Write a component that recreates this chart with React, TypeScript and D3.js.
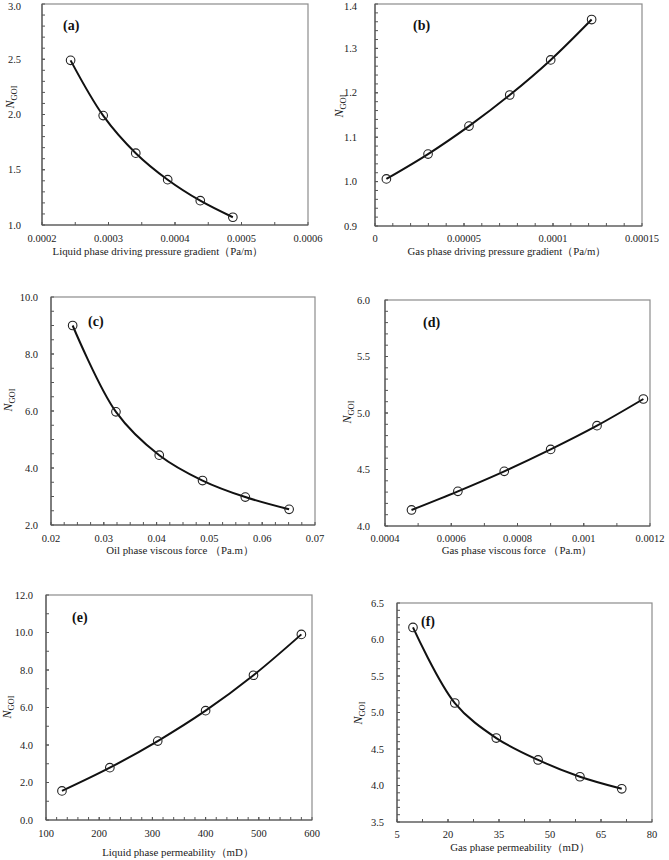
import React from "react";
import * as d3 from "d3";

const width = 669;
const height = 860;

const serif = "'Liberation Serif', 'Times New Roman', serif";

// Data
const aX = [0.000243, 0.000292, 0.000341, 0.000389, 0.000438, 0.000487];
const aY = [2.49, 1.99, 1.65, 1.41, 1.22, 1.07];
const bX = [0.0000064, 0.0000298, 0.0000528, 0.0000757, 0.0000987, 0.0001217];
const bY = [1.006, 1.062, 1.125, 1.195, 1.274, 1.365];
const cX = [0.0241, 0.0323, 0.0405, 0.0487, 0.0568, 0.0651];
const cY = [9.0, 5.97, 4.45, 3.56, 2.98, 2.55];
const dX = [0.00048, 0.00062, 0.00076, 0.0009, 0.00104, 0.00118];
const dY = [4.142, 4.307, 4.484, 4.678, 4.888, 5.124];
const eX = [130, 220, 310, 400, 490, 580];
const eY = [1.55, 2.79, 4.21, 5.83, 7.72, 9.9];
const fX = [9.7, 22, 34.2, 46.5, 58.8, 71.1];
const fY = [6.165, 5.13, 4.65, 4.35, 4.12, 3.955];

// Axis ticks
const aXTicks = [0.0002, 0.0003, 0.0004, 0.0005, 0.0006];
const aXLabels = ["0.0002", "0.0003", "0.0004", "0.0005", "0.0006"];
const aYTicks = [1.0, 1.5, 2.0, 2.5, 3.0];
const aYLabels = ["1.0", "1.5", "2.0", "2.5", "3.0"];
const bXTicks = [0, 0.00005, 0.0001, 0.00015];
const bXLabels = ["0", "0.00005", "0.0001", "0.00015"];
const bYTicks = [0.9, 1.0, 1.1, 1.2, 1.3, 1.4];
const bYLabels = ["0.9", "1.0", "1.1", "1.2", "1.3", "1.4"];
const cXTicks = [0.02, 0.03, 0.04, 0.05, 0.06, 0.07];
const cXLabels = ["0.02", "0.03", "0.04", "0.05", "0.06", "0.07"];
const cYTicks = [2, 4, 6, 8, 10];
const cYLabels = ["2.0", "4.0", "6.0", "8.0", "10.0"];
const dXTicks = [0.0004, 0.0006, 0.0008, 0.001, 0.0012];
const dXLabels = ["0.0004", "0.0006", "0.0008", "0.001", "0.0012"];
const dYTicks = [4.0, 4.5, 5.0, 5.5, 6.0];
const dYLabels = ["4.0", "4.5", "5.0", "5.5", "6.0"];
const eXTicks = [100, 200, 300, 400, 500, 600];
const eXLabels = ["100", "200", "300", "400", "500", "600"];
const eYTicks = [0, 2, 4, 6, 8, 10, 12];
const eYLabels = ["0.0", "2.0", "4.0", "6.0", "8.0", "10.0", "12.0"];
const fXTicks = [5, 20, 35, 50, 65, 80];
const fXLabels = ["5", "20", "35", "50", "65", "80"];
const fYTicks = [3.5, 4.0, 4.5, 5.0, 5.5, 6.0, 6.5];
const fYLabels = ["3.5", "4.0", "4.5", "5.0", "5.5", "6.0", "6.5"];

const panelTags = ["(a)", "(b)", "(c)", "(d)", "(e)", "(f)"];
const xTitles = [
  "Liquid phase driving pressure gradient（Pa/m）",
  "Gas phase driving pressure gradient（Pa/m）",
  "Oil phase viscous force （Pa.m）",
  "Gas phase viscous force （Pa.m）",
  "Liquid phase  permeability（mD）",
  "Gas phase  permeability（mD）",
];

// layout: plot rect, minor subdivisions, label positions
const layouts = [
  { l: 42, r: 308, t: 4, b: 225, xSub: 2, ySub: 5, yLabR: 21, yTitleX: 10, yTitleY: 97, tag: [63, 30], titleX: 158, tickY: 242, titleY: 254.5 },
  { l: 375, r: 642, t: 4, b: 226, xSub: 5, ySub: 5, yLabR: 357, yTitleX: 339, yTitleY: 106, tag: [413, 30], titleX: 507, tickY: 242, titleY: 254.5 },
  { l: 51, r: 315, t: 297, b: 525, xSub: 4, ySub: 4, yLabR: 38, yTitleX: 8, yTitleY: 400, tag: [88, 326], titleX: 180, tickY: 542, titleY: 553.5 },
  { l: 385, r: 650, t: 300, b: 526, xSub: 2, ySub: 5, yLabR: 370, yTitleX: 347, yTitleY: 412, tag: [423, 327], titleX: 517, tickY: 542, titleY: 553.5 },
  { l: 46, r: 312, t: 595, b: 820, xSub: 5, ySub: 2, yLabR: 33, yTitleX: 7, yTitleY: 707, tag: [72, 622], titleX: 178, tickY: 836.5, titleY: 856 },
  { l: 397, r: 652, t: 603, b: 822, xSub: 2, ySub: 5, yLabR: 384, yTitleX: 358, yTitleY: 713, tag: [421, 626], titleX: 520, tickY: 838, titleY: 850.5 },
];

const series = [
  { x: aX, y: aY, xt: aXTicks, xl: aXLabels, yt: aYTicks, yl: aYLabels },
  { x: bX, y: bY, xt: bXTicks, xl: bXLabels, yt: bYTicks, yl: bYLabels },
  { x: cX, y: cY, xt: cXTicks, xl: cXLabels, yt: cYTicks, yl: cYLabels },
  { x: dX, y: dY, xt: dXTicks, xl: dXLabels, yt: dYTicks, yl: dYLabels },
  { x: eX, y: eY, xt: eXTicks, xl: eXLabels, yt: eYTicks, yl: eYLabels },
  { x: fX, y: fY, xt: fXTicks, xl: fXLabels, yt: fYTicks, yl: fYLabels },
];

const minorTicks = (ticks: number[], sub: number) => {
  const out: number[] = [];
  for (let i = 0; i < ticks.length - 1; i++) {
    const step = (ticks[i + 1] - ticks[i]) / sub;
    for (let k = 0; k <= sub; k++) out.push(ticks[i] + k * step);
  }
  return out;
};

const Panel = ({ idx }: { idx: number }) => {
  const s = series[idx];
  const L = layouts[idx];
  const xScale = d3
    .scaleLinear()
    .domain([s.xt[0], s.xt[s.xt.length - 1]])
    .range([L.l, L.r]);
  const yScale = d3
    .scaleLinear()
    .domain([s.yt[0], s.yt[s.yt.length - 1]])
    .range([L.b, L.t]);

  const pts = s.x.map((v, i) => [v, s.y[i]] as [number, number]);
  const lineGen = d3
    .line<[number, number]>()
    .x((d) => xScale(d[0]))
    .y((d) => yScale(d[1]))
    .curve(d3.curveCatmullRom.alpha(0.5));

  const xm = minorTicks(s.xt, L.xSub);
  const ym = minorTicks(s.yt, L.ySub);

  return (
    <g>
      {/* plot frame */}
      <rect
        x={L.l}
        y={L.t}
        width={L.r - L.l}
        height={L.b - L.t}
        fill="none"
        stroke="#8c8c8c"
        strokeWidth={1.2}
      />
      {/* axes with inward ticks */}
      <line x1={L.l} x2={L.r} y1={L.b} y2={L.b} stroke="#555" strokeWidth={1.2} />
      <line x1={L.l} x2={L.l} y1={L.t} y2={L.b} stroke="#555" strokeWidth={1.2} />
      {xm.map((v, i) => (
        <line key={"xm" + i} x1={xScale(v)} x2={xScale(v)} y1={L.b} y2={L.b - 3} stroke="#555" strokeWidth={1} />
      ))}
      {ym.map((v, i) => (
        <line key={"ym" + i} x1={L.l} x2={L.l + 3} y1={yScale(v)} y2={yScale(v)} stroke="#555" strokeWidth={1} />
      ))}
      {s.xt.map((v, i) => (
        <text
          key={"xl" + i}
          x={xScale(v)}
          y={L.tickY}
          textAnchor="middle"
          fontFamily={serif}
          fontSize={10.5}
          fill="#222"
        >
          {s.xl[i]}
        </text>
      ))}
      {s.yt.map((v, i) => (
        <text
          key={"yl" + i}
          x={L.yLabR}
          y={Math.max(yScale(v), 6)}
          dy="0.35em"
          textAnchor="end"
          fontFamily={serif}
          fontSize={10.5}
          fill="#222"
        >
          {s.yl[i]}
        </text>
      ))}
      <text
        x={L.titleX}
        y={L.titleY}
        textAnchor="middle"
        fontFamily={serif}
        fontSize={10.8}
        fill="#222"
      >
        {xTitles[idx]}
      </text>
      <text
        transform={`translate(${L.yTitleX + 4},${L.yTitleY}) rotate(-90)`}
        textAnchor="middle"
        fontFamily={serif}
        fill="#222"
      >
        <tspan fontStyle="italic" fontSize={12}>N</tspan>
        <tspan fontSize={8.5} dy={2.5}>GOI</tspan>
      </text>
      <text
        x={L.tag[0]}
        y={L.tag[1]}
        fontFamily={serif}
        fontWeight="bold"
        fontSize={14}
        fill="#111"
      >
        {panelTags[idx]}
      </text>
      <path d={lineGen(pts) || ""} fill="none" stroke="#111" strokeWidth={2} />
      {pts.map((p, i) => (
        <circle
          key={"pt" + i}
          cx={xScale(p[0])}
          cy={yScale(p[1])}
          r={4.3}
          fill="none"
          stroke="#222"
          strokeWidth={1.1}
        />
      ))}
    </g>
  );
};

export default function App() {
  return (
    <svg
      width={width}
      height={height}
      style={{ position: "absolute", left: 0, top: 0, background: "#fff" }}
    >
      <rect x={0} y={0} width={width} height={height} fill="#fff" />
      {series.map((_, i) => (
        <Panel key={i} idx={i} />
      ))}
    </svg>
  );
}
